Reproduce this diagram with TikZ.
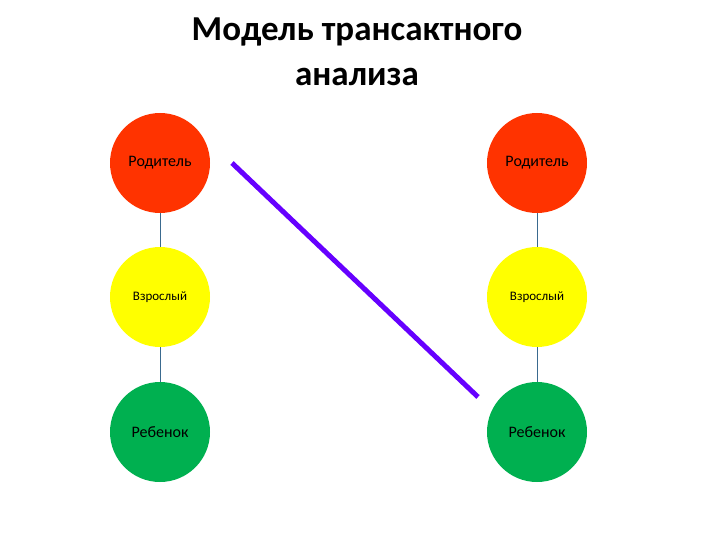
\documentclass[tikz,border=0pt]{standalone}
\usepackage{fontspec}
\setmainfont{Carlito}
\definecolor{cred}{HTML}{FF3300}
\definecolor{cyel}{HTML}{FFFF00}
\definecolor{cgrn}{HTML}{00B050}
\definecolor{clin}{HTML}{3A6A8F}
\definecolor{cpur}{HTML}{6600FF}
\begin{document}
\begin{tikzpicture}[x=1pt,y=-1pt,
  st/.style={circle,minimum size=100pt,inner sep=0pt,font=\fontsize{16}{18}\selectfont},
  lk/.style={draw=clin,line width=0.8pt}]
\useasboundingbox (0,0) rectangle (720,540);
\node[font=\bfseries\fontsize{35}{45}\selectfont,align=center] (title) at (357,52) {Модель трансактного\\анализа};
\node[st,fill=cred] (p1) at (160,163) {Родитель};
\node[st,fill=cyel] (a1) at (160,297) {\fontsize{13}{15}\selectfont Взрослый};
\node[st,fill=cgrn] (c1) at (160,432) {Ребенок};
\node[st,fill=cred] (p2) at (537,163) {Родитель};
\node[st,fill=cyel] (a2) at (537,297) {\fontsize{13}{15}\selectfont Взрослый};
\node[st,fill=cgrn] (c2) at (537,432) {Ребенок};
\draw[lk] (p1)--(a1) (a1)--(c1) (p2)--(a2) (a2)--(c2);
\coordinate (s) at (232,163);
\coordinate (e) at (478,397);
\draw[cpur,line width=5pt] (s)--(e);
\end{tikzpicture}
\end{document}
